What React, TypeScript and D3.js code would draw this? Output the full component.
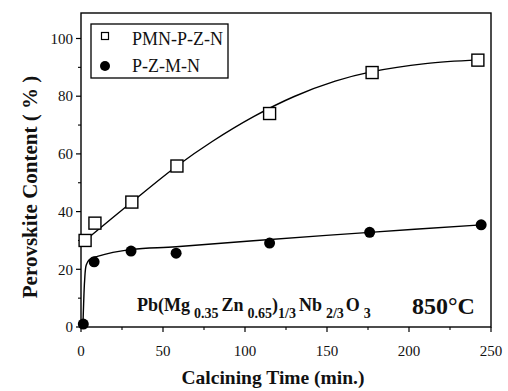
import React from "react";
import * as d3 from "d3";

// Measured points
const pmnTime = [2.5, 8.5, 31, 58.5, 115, 177.5, 242];
const pmnValue = [30, 36, 43.3, 55.8, 74, 88.2, 92.5];
const pzmnTime = [1.4, 8, 30.5, 58, 115, 176, 244];
const pzmnValue = [1, 22.6, 26.3, 25.6, 29.1, 32.8, 35.4];

// Guide-to-the-eye curves through the data
const pmnFitTime = [2.5, 31, 58.5, 80, 105.5, 130, 155, 177.5, 210, 242];
const pmnFitValue = [30, 43.3, 55.8, 64.3, 73, 79.9, 85.2, 88.5, 91.3, 92.6];
const pzmnFitTime = [1.2, 1.6, 2.2, 3.2, 5, 10, 31, 58, 105, 176, 244];
const pzmnFitValue = [1, 8, 16, 21.5, 23.3, 24.5, 26.9, 27.8, 29.9, 32.8, 35.4];

const xTicks = [0, 50, 100, 150, 200, 250];
const xMinorTicks = [25, 75, 125, 175, 225];
const yTicks = [0, 20, 40, 60, 80, 100];
const yMinorTicks = [10, 30, 50, 70, 90];

const legendLabels = ["PMN-P-Z-N", "P-Z-M-N"];

const W = 508;
const H = 391;
const left = 81;
const right = 491;
const bottom = 327;
const top = 13;

const serif: React.CSSProperties = { fontFamily: '"Liberation Serif", "DejaVu Serif", serif' };

export default function App() {
  const x = d3.scaleLinear().domain([0, 250]).range([left, right]);
  const y = d3.scaleLinear().domain([0, 100]).range([bottom, 38.5]);

  const smooth = d3
    .line<[number, number]>()
    .x((d) => x(d[0]))
    .y((d) => y(d[1]))
    .curve(d3.curveCatmullRom.alpha(0.5));

  const pmnFit = pmnFitTime.map((t, i) => [t, pmnFitValue[i]] as [number, number]);
  const pzmnFit = pzmnFitTime.map((t, i) => [t, pzmnFitValue[i]] as [number, number]);

  const sq = 12;

  return (
    <svg
      width={W}
      height={H}
      viewBox={`0 0 ${W} ${H}`}
      style={{ position: "absolute", left: 0, top: 0, background: "#fff" }}
    >
      <rect x={0} y={0} width={W} height={H} fill="#fff" />

      {/* frame */}
      <rect
        x={left}
        y={top}
        width={right - left}
        height={bottom - top}
        fill="none"
        stroke="#000"
        strokeWidth={1.4}
      />

      {/* x axis ticks */}
      {xTicks.map((t) => (
        <g key={"xt" + t}>
          <line x1={x(t)} x2={x(t)} y1={bottom} y2={bottom + 5} stroke="#000" strokeWidth={1.2} />
          <text x={x(t)} y={356} fontSize={15} textAnchor="middle" fill="#111" style={serif}>
            {t}
          </text>
        </g>
      ))}
      {xMinorTicks.map((t) => (
        <line key={"xm" + t} x1={x(t)} x2={x(t)} y1={bottom} y2={bottom + 3} stroke="#000" strokeWidth={1.1} />
      ))}

      {/* y axis ticks */}
      {yTicks.map((t) => (
        <g key={"yt" + t}>
          <line x1={left - 5} x2={left} y1={y(t)} y2={y(t)} stroke="#000" strokeWidth={1.2} />
          <text x={73} y={y(t)} dy="0.35em" fontSize={15} textAnchor="end" fill="#111" style={serif}>
            {t}
          </text>
        </g>
      ))}
      {yMinorTicks.map((t) => (
        <line key={"ym" + t} x1={left - 3} x2={left} y1={y(t)} y2={y(t)} stroke="#000" strokeWidth={1.1} />
      ))}

      {/* fitted curves */}
      <path d={smooth(pmnFit) ?? ""} fill="none" stroke="#000" strokeWidth={1.4} />
      <path d={smooth(pzmnFit) ?? ""} fill="none" stroke="#000" strokeWidth={1.4} />

      {/* PMN-P-Z-N squares */}
      {pmnTime.map((t, i) => (
        <rect
          key={"s" + i}
          x={x(t) - sq / 2}
          y={y(pmnValue[i]) - sq / 2}
          width={sq}
          height={sq}
          fill="#fff"
          stroke="#000"
          strokeWidth={1.4}
        />
      ))}

      {/* P-Z-M-N circles */}
      {pzmnTime.map((t, i) => (
        <circle key={"c" + i} cx={x(t)} cy={y(pzmnValue[i])} r={5.5} fill="#000" />
      ))}

      {/* legend */}
      <rect x={91} y={24} width={137} height={54} fill="#fff" stroke="#000" strokeWidth={1.3} />
      <rect x={101.5} y={32.5} width={7} height={7} fill="#fff" stroke="#000" strokeWidth={1.2} />
      <circle cx={105} cy={66} r={5} fill="#000" />
      <text x={132} y={45} fontSize={18} fill="#111" style={serif}>
        {legendLabels[0]}
      </text>
      <text x={132} y={72} fontSize={18} fill="#111" style={serif}>
        {legendLabels[1]}
      </text>

      {/* composition label */}
      <text x={137} y={311} fontSize={18} fontWeight="bold" fill="#111" style={serif}>
        <tspan>Pb(Mg</tspan>
        <tspan dx={4} dy={7} fontSize={14}>0.35</tspan>
        <tspan dx={3} dy={-7}>Zn</tspan>
        <tspan dx={4} dy={7} fontSize={14}>0.65</tspan>
        <tspan dy={-7}>)</tspan>
        <tspan dy={7} fontSize={14}>1/3</tspan>
        <tspan dx={3} dy={-7}>Nb</tspan>
        <tspan dx={4} dy={7} fontSize={14}>2/3</tspan>
        <tspan dx={2} dy={-7}>O</tspan>
        <tspan dx={4} dy={7} fontSize={14}>3</tspan>
      </text>

      <text x={412} y={314} fontSize={24} fontWeight="bold" fill="#111" style={serif}>
        850°C
      </text>

      {/* axis titles */}
      <text x={273} y={384} fontSize={19.5} fontWeight="bold" textAnchor="middle" fill="#111" style={serif}>
        Calcining Time (min.)
      </text>
      <text
        transform={`translate(37, 187) rotate(-90)`}
        fontSize={21}
        fontWeight="bold"
        textAnchor="middle"
        fill="#111"
        style={serif}
      >
        Perovskite Content ( % )
      </text>
    </svg>
  );
}
